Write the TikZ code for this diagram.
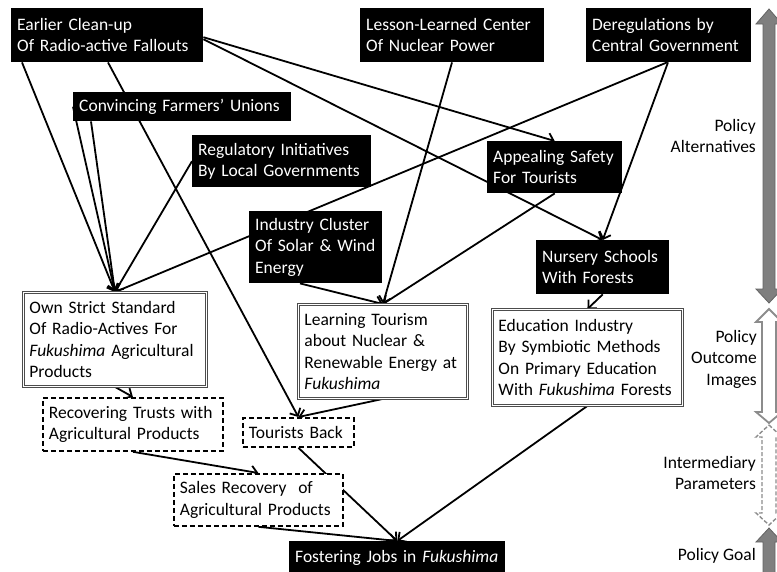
\documentclass[tikz,border=0pt]{standalone}
\usepackage{fontspec}
\setmainfont{Carlito}
\usepackage{xcolor}
\usepackage{tikz}
\usetikzlibrary{positioning,calc,arrows.meta,backgrounds}
\definecolor{bandgray}{RGB}{127,127,127}
\definecolor{banddark}{RGB}{100,100,100}
\definecolor{bandline}{RGB}{140,140,140}

\begin{document}
\begin{tikzpicture}[x=1pt,y=-1pt,
    every node/.style={font=\fontsize{17.5}{21.5}\selectfont, inner ysep=0pt, inner xsep=6pt},
    altbox/.style={fill=black, text=white, align=left, anchor=north west},
    outbox/.style={draw=black!70, line width=0.9pt, double=white, double distance=1pt, fill=white, align=left, anchor=north west},
    parbox/.style={draw=black, line width=1.8pt, dash pattern=on 5pt off 3pt, fill=white, align=left, anchor=north west},
    link/.style={line width=1.8pt, -{Straight Barb[length=6pt,width=12pt]}},
    lbl/.style={align=right, anchor=east, inner xsep=0pt}]
    \useasboundingbox (0,0) rectangle (777,571);
    \clip (0,0) rectangle (777,571);
    % policy alternatives
    \node[altbox, text width=180, minimum height=54] (ecu) at (11,8) {Earlier Clean-up\\Of Radio-active Fallouts};
    \node[altbox, text width=172, minimum height=54] (llc) at (360,8) {Lesson-Learned Center\\Of Nuclear Power};
    \node[altbox, text width=153, minimum height=54] (dcg) at (586,8) {Deregulations by\\Central Government};
    \node[altbox, text width=206, minimum height=29] (cfu) at (73,92) {Convincing Farmers’ Unions};
    \node[altbox, text width=167, minimum height=52] (rlg) at (192,135) {Regulatory Initiatives\\By Local Governments};
    \node[altbox, text width=123, minimum height=52] (ast) at (487,141) {Appealing Safety\\For Tourists};
    \node[altbox, text width=121, minimum height=72] (icl) at (249,211) {Industry Cluster\\Of Solar \& Wind\\Energy};
    \node[altbox, text width=121, minimum height=54] (nsf) at (536,240) {Nursery Schools\\With Forests};
    % policy outcome images
    \node[outbox, text width=171, minimum height=94] (oss) at (23,292) {Own Strict Standard\\Of Radio-Actives For\\\textit{Fukushima} Agricultural\\Products};
    \node[outbox, text width=157, minimum height=94] (ltn) at (298,304) {Learning Tourism\\about Nuclear \&\\Renewable Energy at\\\textit{Fukushima}};
    \node[outbox, text width=178, minimum height=96] (eib) at (492,309) {Education Industry\\By Symbiotic Methods\\On Primary Education\\With \textit{Fukushima} Forests};
    % intermediary parameters
    \node[parbox, text width=168, minimum height=53] (rtp) at (42,397) {Recovering Trusts with\\Agricultural Products};
    \node[parbox, text width=99, minimum height=29] (tbk) at (242,417) {Tourists Back};
    \node[parbox, text width=157, minimum height=52] (srp) at (173,473) {Sales Recovery\ \ of\\Agricultural Products};
    % policy goal
    \node[altbox, text width=204, minimum height=34] (fjf) at (289,541) {Fostering Jobs in \textit{Fukushima}};

    \begin{scope}[on background layer]
    \draw[link] ($(ecu.south west)+(11,0)$) -- (oss.north);
    \draw[link] ($(ecu.south west)+(97,0)$) -- (tbk.north);
    \draw[link] ($(ecu.east)+(0,2)$) -- (ast.north);
    \draw[link] ($(ecu.east)+(0,4)$) -- (nsf.north);
    \draw[link] (cfu.west) -- (oss.north);
    \draw[link] ($(cfu.south west)+(18,0)$) -- (oss.north);
    \draw[link] (rlg.west) -- (oss.north);
    \draw[link] ($(dcg.south west)+(81,0)$) -- (oss.north);
    \draw[link] ($(dcg.south west)+(82,0)$) -- (nsf.north);
    \draw[link] ($(llc.south west)+(92,0)$) -- (ltn.north);
    \draw[link] ($(icl.south west)+(51,0)$) -- (ltn.north);
    \draw[link] (ast.south) -- (ltn.north);
    \draw[link] (nsf.south) -- (eib.north);
    \draw[link] (oss.south) -- (rtp.north);
    \draw[link] (ltn.south) -- (tbk.north);
    \draw[link] (rtp.south) -- (srp.north);
    \draw[link] (tbk.south) -- (fjf.north);
    \draw[link] (srp.south) -- (fjf.north);
    \draw[link] (eib.south) -- (fjf.north);
    \end{scope}

    % band of levels on the right
    \filldraw[fill=bandgray, draw=banddark, line width=0.8pt] (769,9) -- (782,24) -- (775,24) -- (775,289) -- (782,289) -- (769,303) -- (756,289) -- (763,289) -- (763,24) -- (756,24) -- cycle;
    \draw[bandline, fill=white, line width=1.8pt] (769,309) -- (782,322) -- (776,322) -- (776,412) -- (782,412) -- (769,423) -- (756,412) -- (762,412) -- (762,322) -- (756,322) -- cycle;
    \draw[bandline, line width=1.4pt, dash pattern=on 4pt off 2pt] (769,425) -- (782,437) -- (776,437) -- (776,513) -- (782,513) -- (769,525) -- (756,513) -- (762,513) -- (762,437) -- (756,437) -- cycle;
    \filldraw[fill=bandgray, draw=banddark, line width=0.8pt] (769,528) -- (782,542) -- (775,542) -- (775,580) -- (763,580) -- (763,542) -- (756,542) -- cycle;
    \node[lbl] (lblalt) at (756,136) {Policy\\Alternatives};
    \node[lbl] (lblout) at (757,359) {Policy\\Outcome\\Images};
    \node[lbl] (lblpar) at (756,473) {Intermediary\\Parameters};
    \node[lbl] (lblgoal) at (756,556) {Policy Goal};
\end{tikzpicture}
\end{document}
